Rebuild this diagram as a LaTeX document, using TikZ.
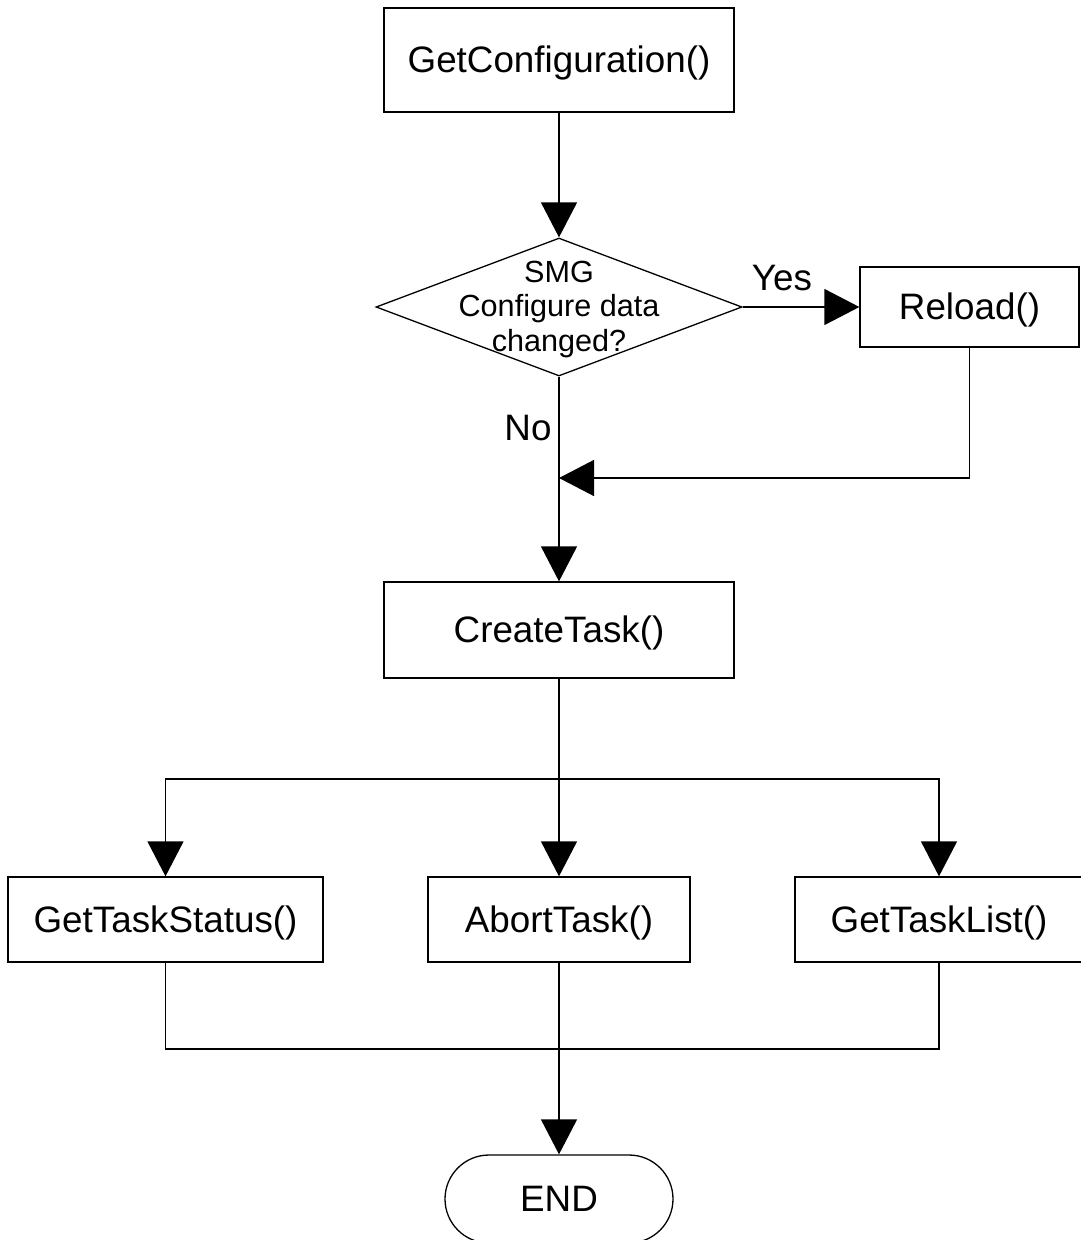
\documentclass[tikz,border=0pt]{standalone}
\usepackage{fontspec}
\setmainfont{Liberation Sans}
\usetikzlibrary{shapes.geometric,arrows.meta}
\begin{document}
\begin{tikzpicture}[x=1pt,y=-1pt,
  every node/.style={font=\fontsize{36.8}{44}\selectfont},
  box/.style={draw,line width=1.3pt,inner sep=0pt,rectangle,text height=32pt,text depth=7pt},
  ln/.style={line width=1.3pt},
  arr/.style={line width=1.3pt,-{Triangle[length=35pt,width=36pt]}}]
\useasboundingbox (0,0) rectangle (1081,1240);
\clip (0,0) rectangle (1081,1240);
\node[box,minimum width=350pt,minimum height=104pt] (gc) at (559,60) {GetConfiguration()};
\node[draw,diamond,line width=1.3pt,inner sep=0pt,minimum width=366pt,minimum height=138pt] (dia) at (559,307) {};
\node[align=center,font=\fontsize{30.6}{34.5}\selectfont] (dtext) at (559,309) {SMG\\Configure data\\changed?};
\node[box,minimum width=219pt,minimum height=80pt] (rl) at (969.5,307) {Reload()};
\node[box,minimum width=350pt,minimum height=96pt] (ct) at (559,630) {CreateTask()};
\node[box,minimum width=315pt,minimum height=85pt] (gts) at (165.5,919.5) {GetTaskStatus()};
\node[box,minimum width=262pt,minimum height=85pt] (at) at (559,919.5) {AbortTask()};
\node[box,minimum width=288pt,minimum height=85pt] (gtl) at (939,919.5) {GetTaskList()};
\node[box,rounded corners=44pt,minimum width=228pt,minimum height=88pt] (end) at (559,1199) {END};
\node (yes) at (782,278) {Yes};
\node (no) at (528,428) {No};
\coordinate (m) at (559,478);
\coordinate (split) at (559,779);
\coordinate (join) at (559,1049);
\draw[arr] (gc.south) -- (dia.north);
\draw[arr] (dia.east) -- (rl.west);
\draw[arr] (rl.south) |- (m);
\draw[arr] (dia.south) -- (ct.north);
\draw[ln] (ct.south) -- (split);
\draw[arr] (split) -| (gts.north);
\draw[arr] (split) -- (at.north);
\draw[arr] (split) -| (gtl.north);
\draw[ln] (gts.south) |- (join);
\draw[ln] (gtl.south) |- (join);
\draw[arr] (at.south) -- (end.north);
\end{tikzpicture}
\end{document}
